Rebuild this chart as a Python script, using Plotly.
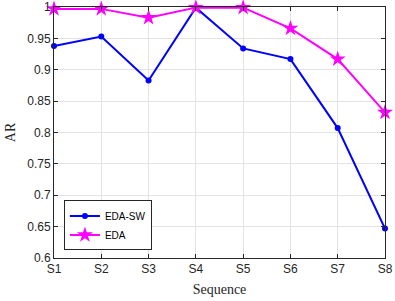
import plotly.graph_objects as go

categories = ["S1", "S2", "S3", "S4", "S5", "S6", "S7", "S8"]
eda_sw = [0.938, 0.953, 0.883, 0.999, 0.934, 0.917, 0.807, 0.647]
eda = [0.997, 0.997, 0.983, 0.999, 0.999, 0.966, 0.917, 0.832]
y_ticks = [0.6, 0.65, 0.7, 0.75, 0.8, 0.85, 0.9, 0.95, 1]
y_ticktext = ["0.6", "0.65", "0.7", "0.75", "0.8", "0.85", "0.9", "0.95", "1"]

x = list(range(1, len(categories) + 1))

fig = go.Figure()
fig.add_trace(go.Scatter(x=x, y=eda_sw, mode="lines+markers", name="EDA-SW",
                         line=dict(color="#0000ff", width=2),
                         marker=dict(symbol="circle", size=6, color="#0000ff"),
                         cliponaxis=False))
fig.add_trace(go.Scatter(x=x, y=eda, mode="lines+markers", name="EDA",
                         line=dict(color="#ff00ff", width=2),
                         marker=dict(symbol="star", size=12, color="#ff00ff"),
                         cliponaxis=False))

axis_common = dict(showline=True, linecolor="#262626", linewidth=1, mirror="allticks",
                   ticks="inside", ticklen=4, tickcolor="#262626", automargin=False,
                   ticklabeloverflow="allow",
                   showgrid=True, gridcolor="#e3e3e3", gridwidth=1, zeroline=False,
                   tickfont=dict(family="Liberation Sans, Arial", size=12, color="#262626"))

fig.update_xaxes(range=[1, 8], tickvals=x, ticktext=categories,
                 title=dict(text="Sequence", font=dict(family="Liberation Serif, Times New Roman", size=14, color="#262626"), standoff=8),
                 **axis_common)
fig.update_yaxes(range=[0.6, 1], tickvals=y_ticks, ticktext=y_ticktext,
                 title=dict(text="AR", font=dict(family="Liberation Serif, Times New Roman", size=14, color="#262626"), standoff=8),
                 **axis_common)

fig.update_layout(width=395, height=301, margin=dict(l=54, r=10, t=7, b=43, autoexpand=False),
                  plot_bgcolor="white", paper_bgcolor="white",
                  legend=dict(x=0.03, y=0.03, xanchor="left", yanchor="bottom",
                              bgcolor="white", bordercolor="#262626", borderwidth=1,
                              font=dict(family="Liberation Sans, Arial", size=10, color="black"),
                              tracegroupgap=0, itemwidth=30),
                  showlegend=True)

fig.write_html("out.html", config={"displayModeBar": False},
               post_script="document.body.style.margin='0';document.body.style.overflow='hidden';")
